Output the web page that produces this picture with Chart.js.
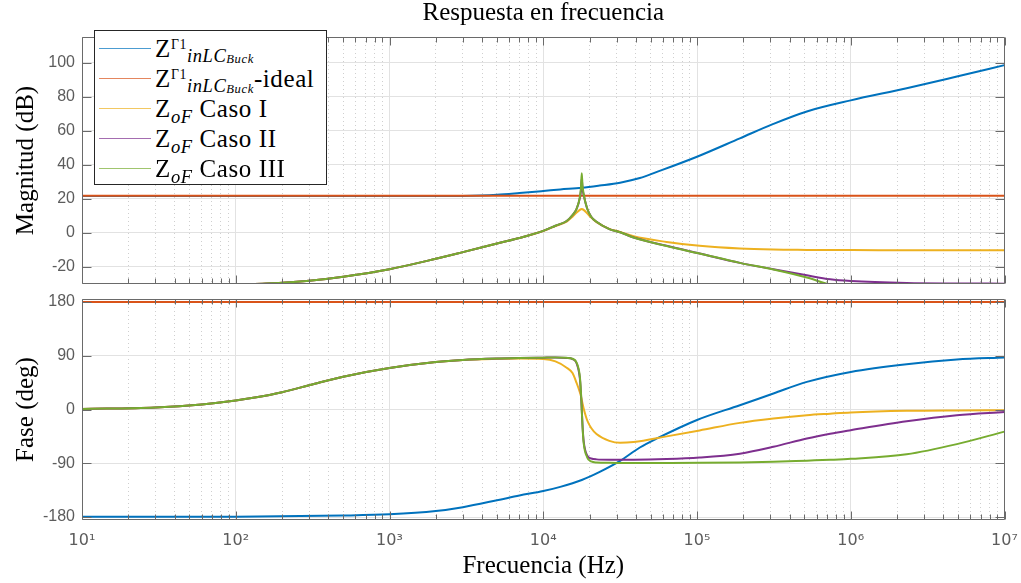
<!DOCTYPE html>
<html lang="es">
<head>
<meta charset="utf-8">
<title>Respuesta en frecuencia</title>
<script src="https://cdn.jsdelivr.net/npm/chart.js@4.4.1/dist/chart.umd.min.js"></script>
<style>
  html, body { margin: 0; padding: 0; background: #fff; }
  #lienzo { position: relative; width: 1021px; height: 583px; overflow: hidden; }
  #graficoMagnitud { position: absolute; left: 0; top: 0; }
  #graficoFase { position: absolute; left: 0; top: 292px; }
  #leyenda {
    position: absolute; left: 94px; top: 30px; width: 233px; height: 155px;
    box-sizing: border-box; border: 1px solid #262626; background: #fff;
    font-family: 'Liberation Serif', serif; font-size: 25px; color: #000;
  }
  .fila { position: absolute; left: 0; height: 30px; display: flex; align-items: center; white-space: nowrap; }
  .muestra { display: inline-block; width: 52px; height: 0; border-top: 1.5px solid; margin: 0 4px; opacity: .7; }
  .texto { line-height: 1; letter-spacing: .6px; }
  .texto sup { font-size: .55em; line-height: 0; vertical-align: .55em; }
  .texto sub { font-size: .74em; line-height: 0; vertical-align: -.3em; }
  .texto sub sub { font-size: .68em; vertical-align: -.05em; }
</style>
</head>
<body>
<div id="lienzo">
  <canvas id="graficoMagnitud" width="1021" height="292"></canvas>
  <canvas id="graficoFase" width="1021" height="291"></canvas>
  <div id="leyenda"></div>
</div>
<script>
// --- Datos ---
// Z^Γ1 inLC_Buck (real)
const frecuenciasZin = [10, 100, 500, 1000, 2000, 3000, 5000, 7000, 1e4, 1.29e4, 1.78e4, 2.33e4, 3.16e4, 4.25e4, 5.49e4, 1e5, 1.9e5, 3.14e5, 5.18e5, 1e6, 2.31e6, 4.9e6, 1e7];
const magZin = [21.6, 21.6, 21.6, 21.6, 21.6, 21.7, 22.4, 23.4, 24.6, 25.5, 26.5, 27.8, 29.5, 32.2, 35.8, 44.7, 55.5, 64, 71.3, 77.8, 84.9, 91.8, 98.5];
const faseZin = [-179.6, -179.4, -177.5, -175.5, -170, -163.5, -152, -144, -136.5, -129.5, -118, -104.4, -86, -63.6, -48.5, -17.5, 7.2, 26.8, 46.2, 62.9, 75.8, 83.6, 87];

// Z^Γ1 inLC_Buck ideal
const frecuenciasIdeal = [10, 1e7];
const magIdeal = [21.8, 21.8];
const faseIdeal = [180, 180];

// Z_oF, casos I, II y III
const frecuenciasZoF = [10, 30, 60, 100, 133, 200, 300, 500, 1000, 2000, 3000, 5230, 7000, 1e4, 1.2e4, 1.42e4, 1.55e4, 1.65e4, 1.73e4, 1.76e4, 1.78e4, 1.8e4, 1.83e4, 1.93e4, 2.05e4, 2.22e4, 2.69e4, 3.16e4, 3.87e4, 6.35e4, 1.04e5, 1.9e5, 3.14e5, 5.18e5, 7.35e5, 1e6, 2.31e6, 4.9e6, 1e7];
const magCaso1 = [-31.5, -31.4, -31.1, -30.6, -30, -29.3, -28.1, -25.7, -21.3, -15.2, -11.3, -5.8, -3, 1.1, 4, 6.6, 9.5, 12, 13.5, 13.9, 14, 13.9, 13.5, 11.5, 9, 6.3, 2.4, 0.6, -2, -5.3, -7.6, -9.2, -9.8, -10, -10.1, -10.1, -10.2, -10.2, -10.2];
const magCaso2 = [-31.5, -31.4, -31.1, -30.6, -30, -29.3, -28.1, -25.7, -21.3, -15.2, -11.3, -5.8, -3, 1.2, 4.2, 7, 10.5, 14.3, 20.5, 25, 32, 26, 22.5, 14.3, 9.5, 6.5, 2.2, 0.4, -2.7, -7.6, -12.1, -17.6, -21.3, -24.9, -27.2, -28.2, -29.4, -29.7, -29.8];
const magCaso3 = [-31.5, -31.4, -31.1, -30.6, -30, -29.3, -28.1, -25.7, -21.3, -15.2, -11.3, -5.8, -3, 1.2, 4.2, 7, 10.5, 14.3, 21, 27, 35, 28, 23, 14.3, 9.5, 6.5, 2.2, 0.4, -2.7, -7.7, -12.1, -17.6, -21.5, -26.2, -30.4, -33, -40.5, -47.5, -54];
const faseCaso1 = [1, 3.5, 8.5, 15, 20, 29, 40.5, 55, 69.5, 79.5, 83, 84.8, 85.3, 84.5, 80.5, 70, 61, 44, 29, 22, 16, 10, 2, -18, -31, -41, -52.5, -55.8, -54.5, -45, -35, -22.4, -15.1, -9.5, -7, -5, -2.3, -1.5, -1.2];
const faseCaso2 = [1, 3.5, 8.5, 15, 20, 29, 40.5, 55, 69.5, 79.5, 83, 85.5, 86.3, 86.8, 87, 86.3, 84.5, 77, 52, 25, 0, -26, -52, -77, -82, -83.5, -84, -84, -84, -83, -80.5, -74, -62.5, -48.5, -40.5, -34.6, -19.6, -9.5, -4];
const faseCaso3 = [1, 3.5, 8.5, 15, 20, 29, 40.5, 55, 69.5, 79.5, 83, 85.5, 86.3, 86.8, 87, 86.5, 85, 78, 55, 28, 0, -28, -55, -80, -87, -88.8, -89.3, -89.4, -89.5, -89.5, -89.3, -88.7, -87.6, -85.6, -84.2, -82.6, -75, -58, -37];

// Ejes
const decadas = [1e1, 1e2, 1e3, 1e4, 1e5, 1e6, 1e7];
const etiquetasX = ['10¹', '10²', '10³', '10⁴', '10⁵', '10⁶', '10⁷'];
const ticksMag = [-20, 0, 20, 40, 60, 80, 100];
const ticksFase = [-180, -90, 0, 90, 180];

// Series y leyenda
const nombresSeries = ['ZΓ1 inLC Buck', 'ZΓ1 inLC Buck-ideal', 'ZoF Caso I', 'ZoF Caso II', 'ZoF Caso III'];
const coloresSeries = ['#0072BD', '#D95319', '#EDB120', '#7E2F8E', '#77AC30'];
const leyendaHtml = [
  'Z<sup>Γ1</sup><sub><i>inLC<sub>Buck</sub></i></sub>',
  'Z<sup>Γ1</sup><sub><i>inLC<sub>Buck</sub></i></sub>-ideal',
  'Z<sub><i>oF</i></sub> Caso I',
  'Z<sub><i>oF</i></sub> Caso II',
  'Z<sub><i>oF</i></sub> Caso III'
];

// --- Estilo ---
const grisTexto = '#5c5c5c';
const grisMarco = '#6a6a6a';
const colorRejilla = '#e2e2e2';
const colorRejillaMenor = '#cfcfcf';
const fuenteSans = {family: "'Liberation Sans', Arial, sans-serif", size: 16};
const fuenteEjeX = {family: "'DejaVu Sans', 'Liberation Sans', sans-serif", size: 16};
const fuenteSerif = {family: "'Liberation Serif', 'Times New Roman', serif", size: 25};

// subdivisiones 2..9 de cada década (rejilla punteada)
const subdivisiones = [];
decadas.slice(0, -1).forEach(d => {
  for (let k = 2; k <= 9; k++) subdivisiones.push(k * d);
});

function serie(i, frecuencias, valores) {
  return {
    label: nombresSeries[i],
    data: frecuencias.map((f, k) => ({x: f, y: valores[k]})),
    borderColor: coloresSeries[i],
    backgroundColor: coloresSeries[i],
    borderWidth: 2,
    pointRadius: 0,
    cubicInterpolationMode: 'monotone',
    clip: 0,
    order: 5 - i  // la última serie queda encima, como en MATLAB
  };
}

// sin márgenes extra por las etiquetas de los extremos
function sinRelleno(s) {
  s.paddingTop = 0; s.paddingBottom = 0; s.paddingLeft = 0; s.paddingRight = 0;
}

function escalasX(conEtiquetas) {
  return {
    x: {
      type: 'logarithmic', min: 10, max: 1e7, position: 'bottom',
      afterBuildTicks: s => { s.ticks = decadas.map(v => ({value: v, major: true})); },
      afterFit: s => { s.height = conEtiquetas ? 63 : 8; sinRelleno(s); },
      grid: {color: colorRejilla, drawTicks: false},
      border: {display: false},
      ticks: {
        display: conEtiquetas, autoSkip: false, maxRotation: 0, padding: 11,
        color: grisTexto, font: fuenteEjeX,
        callback: (v, i) => etiquetasX[i]
      },
      title: {
        display: conEtiquetas, text: 'Frecuencia (Hz)', color: '#000',
        font: fuenteSerif, padding: {top: 0, bottom: 2}
      }
    },
    xMenor: {
      type: 'logarithmic', min: 10, max: 1e7, position: 'bottom',
      afterBuildTicks: s => { s.ticks = subdivisiones.map(v => ({value: v})); },
      afterFit: s => { s.height = 0; sinRelleno(s); },
      grid: {color: colorRejillaMenor, drawTicks: false},
      border: {display: false, dash: [1, 3]},
      ticks: {display: false}
    }
  };
}

function escalaY(min, max, marcas, titulo) {
  return {
    min: min, max: max,
    afterBuildTicks: s => { s.ticks = marcas.map(v => ({value: v})); },
    afterFit: s => { s.width = 82; sinRelleno(s); },
    grid: {color: colorRejilla, drawTicks: false},
    border: {display: false},
    ticks: {padding: 7, color: grisTexto, font: fuenteSans, callback: v => String(v)},
    title: {display: true, text: titulo, color: '#000', font: fuenteSerif, padding: {top: 11, bottom: 0}}
  };
}

// Caja y marcas hacia dentro, estilo MATLAB
const marcoEjes = {
  id: 'marcoEjes',
  afterDatasetsDraw(chart) {
    const {ctx, chartArea: a, scales} = chart;
    const izq = Math.round(a.left) + 0.5;
    const der = Math.round(a.right) - 0.5;
    const arriba = Math.round(a.top) + 0.5;
    const abajo = Math.round(a.bottom) - 0.5;
    ctx.save();
    ctx.strokeStyle = grisMarco;
    ctx.lineWidth = 1;
    ctx.beginPath();
    const marcasX = (escala, largo) => escala.ticks.forEach(t => {
      const px = Math.round(escala.getPixelForValue(t.value)) + 0.5;
      ctx.moveTo(px, abajo); ctx.lineTo(px, abajo - largo);
      ctx.moveTo(px, arriba); ctx.lineTo(px, arriba + largo);
    });
    marcasX(scales.x, 8);
    marcasX(scales.xMenor, 5);
    scales.y.ticks.forEach(t => {
      const py = Math.round(scales.y.getPixelForValue(t.value)) + 0.5;
      ctx.moveTo(izq, py); ctx.lineTo(izq + 9, py);
      ctx.moveTo(der, py); ctx.lineTo(der - 9, py);
    });
    ctx.rect(izq, arriba, der - izq, abajo - arriba);
    ctx.stroke();
    ctx.restore();
  }
};

// --- Gráfico Magnitud ---
const graficoMagnitud = new Chart(document.getElementById('graficoMagnitud'), {
  type: 'line',
  data: {
    datasets: [
      serie(0, frecuenciasZin, magZin),
      serie(1, frecuenciasIdeal, magIdeal),
      serie(2, frecuenciasZoF, magCaso1),
      serie(3, frecuenciasZoF, magCaso2),
      serie(4, frecuenciasZoF, magCaso3)
    ]
  },
  options: {
    responsive: false,
    animation: false,
    layout: {padding: {top: 0, left: 0, right: 16.5, bottom: 0}},
    scales: Object.assign(escalasX(false), {y: escalaY(-30, 115, ticksMag, 'Magnitud (dB)')}),
    plugins: {
      legend: {display: false},
      tooltip: {enabled: false},
      title: {
        display: true, fullSize: false, text: 'Respuesta en frecuencia', color: '#000',
        font: Object.assign({}, fuenteSerif, {weight: 'normal'}), padding: {top: -2, bottom: 9}
      }
    }
  },
  plugins: [marcoEjes]
});

// --- Gráfico Fase ---
const graficoFase = new Chart(document.getElementById('graficoFase'), {
  type: 'line',
  data: {
    datasets: [
      serie(0, frecuenciasZin, faseZin),
      serie(1, frecuenciasIdeal, faseIdeal),
      serie(2, frecuenciasZoF, faseCaso1),
      serie(3, frecuenciasZoF, faseCaso2),
      serie(4, frecuenciasZoF, faseCaso3)
    ]
  },
  options: {
    responsive: false,
    animation: false,
    layout: {padding: {top: 7, left: 0, right: 16.5, bottom: 0}},
    scales: Object.assign(escalasX(true), {y: escalaY(-185, 185, ticksFase, 'Fase (deg)')}),
    plugins: {legend: {display: false}, tooltip: {enabled: false}}
  },
  plugins: [marcoEjes]
});

// --- Leyenda HTML (subíndices y superíndices) ---
const leyenda = document.getElementById('leyenda');
leyendaHtml.forEach((html, i) => {
  const fila = document.createElement('div');
  fila.className = 'fila';
  fila.style.top = (2 + 30 * i) + 'px';
  fila.innerHTML = '<span class="muestra" style="border-color:' + coloresSeries[i] + '"></span>' +
                   '<span class="texto">' + html + '</span>';
  leyenda.appendChild(fila);
});
</script>
</body>
</html>
